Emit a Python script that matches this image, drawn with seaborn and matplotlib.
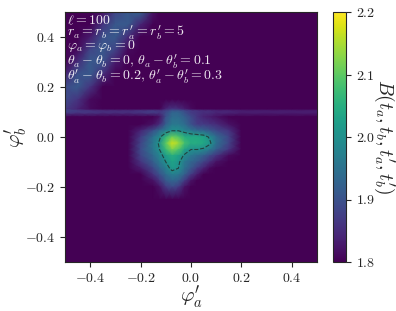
import numpy as np
import matplotlib
matplotlib.use("Agg")
import matplotlib.pyplot as plt
import seaborn as sns

sns.set_style("ticks")
plt.rcParams['font.family'] = 'serif'
plt.rcParams['font.serif'] = ['cmr10', 'DejaVu Serif']
plt.rcParams['mathtext.fontset'] = 'cm'
plt.rcParams['axes.formatter.use_mathtext'] = True
plt.rcParams['axes.unicode_minus'] = True

# grid of phi'_a (columns) and phi'_b (rows, top to bottom)
phi_a = [-0.5, -0.45, -0.4, -0.35, -0.3, -0.25, -0.2, -0.15, -0.125, -0.1, -0.075, -0.05,
         -0.025, 0.0, 0.025, 0.05, 0.075, 0.1, 0.15, 0.2, 0.3, 0.4, 0.5]
phi_b = [0.5, 0.45, 0.4, 0.35, 0.3, 0.25, 0.2, 0.15, 0.112, 0.104, 0.096, 0.08, 0.05, 0.025,
         0.0, -0.025, -0.05, -0.075, -0.1, -0.125, -0.15, -0.175, -0.2, -0.25, -0.3, -0.5]

B_values = [
    [1.78,1.78,1.78,1.82,1.88,1.91,1.92,1.82,1.78,1.78,1.78,1.78,1.78,1.78,1.78,1.78,1.78,1.78,1.78,1.78,1.78,1.78,1.78],
    [1.78,1.78,1.80,1.86,1.91,1.91,1.84,1.78,1.78,1.78,1.78,1.78,1.78,1.78,1.78,1.78,1.78,1.78,1.78,1.78,1.78,1.78,1.78],
    [1.78,1.79,1.83,1.90,1.91,1.85,1.79,1.78,1.78,1.78,1.78,1.78,1.78,1.78,1.78,1.78,1.78,1.78,1.78,1.78,1.78,1.78,1.78],
    [1.78,1.81,1.88,1.91,1.88,1.81,1.78,1.78,1.78,1.78,1.78,1.78,1.78,1.78,1.78,1.78,1.78,1.78,1.78,1.78,1.78,1.78,1.78],
    [1.80,1.85,1.91,1.90,1.83,1.78,1.78,1.78,1.78,1.78,1.78,1.78,1.78,1.78,1.78,1.78,1.78,1.78,1.78,1.78,1.78,1.78,1.78],
    [1.84,1.90,1.91,1.85,1.79,1.78,1.78,1.78,1.78,1.78,1.78,1.78,1.78,1.78,1.78,1.78,1.78,1.78,1.78,1.78,1.78,1.78,1.78],
    [1.89,1.91,1.86,1.80,1.78,1.78,1.78,1.78,1.78,1.78,1.78,1.78,1.78,1.78,1.78,1.78,1.78,1.78,1.78,1.78,1.78,1.78,1.78],
    [1.89,1.86,1.81,1.78,1.78,1.78,1.78,1.78,1.78,1.78,1.78,1.78,1.78,1.78,1.78,1.78,1.78,1.78,1.78,1.78,1.78,1.78,1.78],
    [1.87,1.84,1.81,1.78,1.78,1.78,1.78,1.78,1.78,1.84,1.86,1.85,1.83,1.81,1.78,1.78,1.78,1.78,1.78,1.78,1.78,1.78,1.78],
    [1.88,1.87,1.86,1.85,1.85,1.85,1.86,1.87,1.86,1.88,1.91,1.91,1.89,1.87,1.86,1.85,1.85,1.84,1.84,1.83,1.83,1.83,1.83],
    [1.87,1.86,1.86,1.85,1.85,1.85,1.86,1.87,1.86,1.89,1.93,1.93,1.90,1.87,1.86,1.85,1.85,1.84,1.84,1.83,1.83,1.83,1.83],
    [1.78,1.78,1.78,1.78,1.78,1.78,1.80,1.80,1.82,1.90,1.94,1.94,1.92,1.89,1.86,1.84,1.83,1.82,1.80,1.78,1.78,1.78,1.78],
    [1.78,1.78,1.78,1.78,1.78,1.78,1.80,1.82,1.85,1.92,1.96,1.96,1.94,1.90,1.87,1.87,1.86,1.85,1.82,1.79,1.78,1.78,1.78],
    [1.78,1.78,1.78,1.78,1.78,1.79,1.84,1.90,1.94,1.97,2.00,2.00,1.98,1.96,1.94,1.93,1.91,1.89,1.86,1.80,1.78,1.78,1.78],
    [1.78,1.78,1.78,1.78,1.78,1.80,1.87,1.95,1.99,2.06,2.11,2.09,2.05,2.04,2.04,2.03,1.99,1.94,1.88,1.80,1.78,1.78,1.78],
    [1.78,1.78,1.78,1.78,1.78,1.80,1.88,1.96,2.01,2.10,2.17,2.14,2.08,2.05,2.05,2.04,2.01,1.95,1.88,1.80,1.78,1.78,1.78],
    [1.78,1.78,1.78,1.78,1.78,1.80,1.89,1.96,2.00,2.07,2.12,2.09,2.03,2.00,2.00,1.99,1.96,1.92,1.86,1.79,1.78,1.78,1.78],
    [1.78,1.78,1.78,1.78,1.78,1.79,1.88,1.94,1.98,2.02,2.05,2.03,1.99,1.96,1.94,1.92,1.89,1.86,1.81,1.78,1.78,1.78,1.78],
    [1.78,1.78,1.78,1.78,1.78,1.79,1.86,1.92,1.96,2.00,2.03,2.01,1.96,1.93,1.91,1.88,1.85,1.82,1.79,1.78,1.78,1.78,1.78],
    [1.78,1.78,1.78,1.78,1.78,1.78,1.83,1.89,1.93,1.97,2.02,2.00,1.95,1.91,1.87,1.84,1.81,1.78,1.78,1.78,1.78,1.78,1.78],
    [1.78,1.78,1.78,1.78,1.78,1.78,1.80,1.86,1.90,1.94,1.97,1.96,1.92,1.87,1.83,1.80,1.78,1.78,1.78,1.78,1.78,1.78,1.78],
    [1.78,1.78,1.78,1.78,1.78,1.78,1.78,1.82,1.86,1.91,1.93,1.92,1.87,1.82,1.79,1.78,1.78,1.78,1.78,1.78,1.78,1.78,1.78],
    [1.78,1.78,1.78,1.78,1.78,1.78,1.78,1.78,1.82,1.87,1.89,1.87,1.82,1.78,1.78,1.78,1.78,1.78,1.78,1.78,1.78,1.78,1.78],
    [1.78,1.78,1.78,1.78,1.78,1.78,1.78,1.78,1.78,1.78,1.78,1.78,1.78,1.78,1.78,1.78,1.78,1.78,1.78,1.78,1.78,1.78,1.78],
    [1.78,1.78,1.78,1.78,1.78,1.78,1.78,1.78,1.78,1.78,1.78,1.78,1.78,1.78,1.78,1.78,1.78,1.78,1.78,1.78,1.78,1.78,1.78],
    [1.78,1.78,1.78,1.78,1.78,1.78,1.78,1.78,1.78,1.78,1.78,1.78,1.78,1.78,1.78,1.78,1.78,1.78,1.78,1.78,1.78,1.78,1.78],
]

cbar_ticks = [1.8, 1.9, 2.0, 2.1, 2.2]
axis_ticks = [-0.4, -0.2, 0.0, 0.2, 0.4]
contour_level = [2.0]
annotation = [
    r"$\ell = 100$",
    r"$r_a = r_b = r_a' = r_b' = 5$",
    r"$\varphi_a = \varphi_b = 0$",
    r"$\theta_a - \theta_b = 0,\, \theta_a - \theta_b' = 0.1$",
    r"$\theta_a' - \theta_b = 0.2,\, \theta_a' - \theta_b' = 0.3$",
]
annotation_baselines = [0.952, 0.904, 0.852, 0.788, 0.728]

X, Y = np.meshgrid(np.array(phi_a), np.array(phi_b))
Z = np.array(B_values)

cmap = sns.color_palette("viridis", as_cmap=True)

fig = plt.figure(figsize=(3.96, 3.11), dpi=100)
ax = fig.add_axes([65/396, 49/311, 252/396, 250/311])
cax = fig.add_axes([333/396, 49/311, 13/396, 250/311])

mesh = ax.pcolormesh(X, Y, Z, shading='gouraud', cmap=cmap, vmin=1.8, vmax=2.2, rasterized=True)
ax.contour(X, Y, Z, levels=contour_level, colors='#23423f', linestyles='--', linewidths=0.8)
ax.set_xlim(-0.5, 0.5)
ax.set_ylim(-0.5, 0.5)
ax.set_xticks(axis_ticks)
ax.set_yticks(axis_ticks)
ax.tick_params(labelsize=10)
ax.set_xlabel(r"$\varphi_a'$", fontsize=15, labelpad=-1)
ax.set_ylabel(r"$\varphi_b'$", fontsize=15, labelpad=-3)

for txt, yb in zip(annotation, annotation_baselines):
    ax.text(0.008, yb, txt, transform=ax.transAxes, ha='left', va='baseline',
            color='white', fontsize=10, alpha=0.9)

cb = fig.colorbar(mesh, cax=cax, ticks=cbar_ticks)
cb.ax.tick_params(labelsize=10)
cb.set_label(r"$B(t_a, t_b, t_a', t_b')$", fontsize=14, rotation=270, va='center', ha='center')
cb.ax.yaxis.set_label_coords(3.9, 0.5)
cb.outline.set_linewidth(0.8)

fig.savefig("out.png", dpi=100)
